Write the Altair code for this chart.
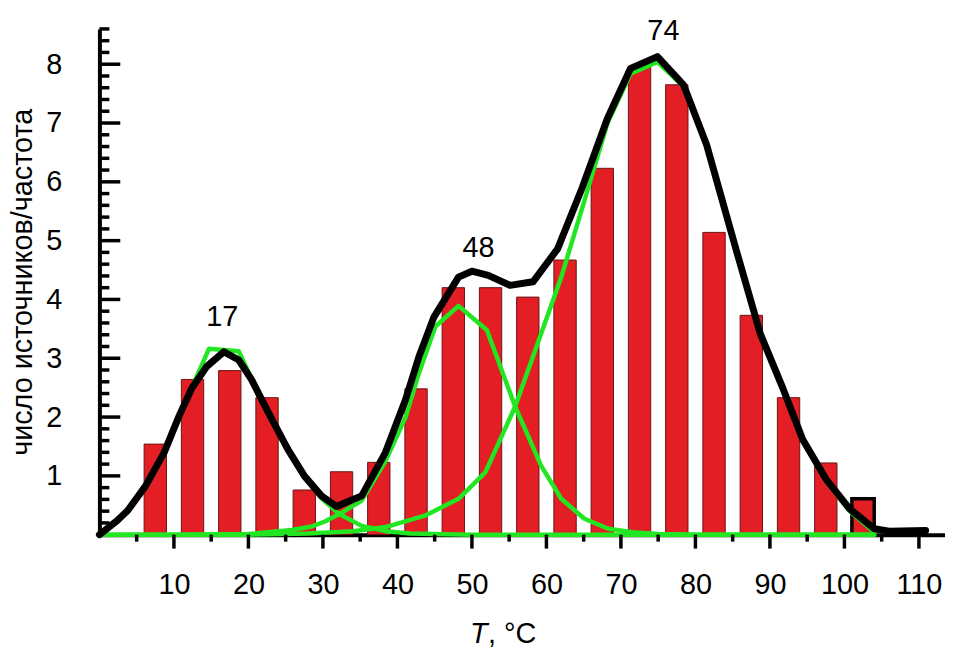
import altair as alt
import pandas as pd

# ---- data ----
bar_T = [7.5, 12.5, 17.5, 22.5, 27.5, 32.5, 37.5, 42.5, 47.5, 52.5,
         57.5, 62.5, 67.5, 72.5, 77.5, 82.5, 87.5, 92.5, 97.5, 102.5]
bar_n = [1.54, 2.64, 2.79, 2.33, 0.76, 1.07, 1.23, 2.48, 4.20, 4.20,
         4.04, 4.67, 6.23, 7.96, 7.65, 5.14, 3.73, 2.33, 1.22, 0.61]
bar_half_width = 1.5

sum_T = [0.0, 2.4, 3.8, 6.2, 8.7, 10.7, 12.4, 14.4, 16.7, 18.7, 20.4, 22.7,
         25.3, 27.5, 29.8, 31.8, 35.2, 38.4, 41.1, 42.9, 44.9, 48.2, 50.0,
         52.2, 55.1, 58.2, 61.5, 64.8, 68.2, 71.3, 74.9, 78.4, 81.5, 85.5,
         88.7, 91.8, 94.4, 97.5, 100.7, 104.0, 106.0, 110.9]
sum_y = [0.0, 0.24, 0.41, 0.83, 1.40, 2.02, 2.49, 2.86, 3.11, 2.97, 2.64, 2.07,
         1.45, 1.00, 0.66, 0.48, 0.66, 1.40, 2.30, 3.03, 3.70, 4.38, 4.48,
         4.41, 4.24, 4.30, 4.86, 5.90, 7.08, 7.93, 8.13, 7.65, 6.63, 4.83,
         3.42, 2.47, 1.62, 0.95, 0.44, 0.10, 0.06, 0.07]

g1_T = [0.0, 2.4, 3.8, 6.2, 8.7, 10.7, 12.4, 14.7, 18.7, 20.4, 22.7, 25.3,
        27.5, 29.8, 32.2, 35.2, 38.4, 41.7, 45.0, 50.0, 60.0, 70.0, 80.0, 90.0, 104.0]
g1_y = [0.02, 0.22, 0.40, 0.82, 1.40, 2.02, 2.50, 3.16, 3.12, 2.66, 2.08, 1.46,
        0.99, 0.62, 0.35, 0.15, 0.06, 0.02, 0.01, 0.0, 0.0, 0.0, 0.0, 0.0, 0.0]

g2_T = [0.0, 10.0, 20.0, 25.8, 28.5, 30.2, 32.2, 35.2, 38.4, 41.1, 42.9, 45.1,
        48.2, 52.0, 55.8, 59.3, 62.0, 65.1, 68.3, 71.6, 75.0, 80.0, 90.0, 104.0]
g2_y = [0.0, 0.0, 0.01, 0.08, 0.14, 0.22, 0.35, 0.58, 1.25, 2.00, 2.75, 3.54,
        3.89, 3.48, 2.18, 1.17, 0.61, 0.27, 0.10, 0.04, 0.01, 0.0, 0.0, 0.0]

g3_T = [0.0, 10.0, 20.0, 28.0, 34.0, 38.4, 43.8, 48.2, 51.8, 55.8, 59.3, 62.0,
        65.1, 68.2, 71.3, 74.9, 78.4, 81.5, 85.5, 88.7, 91.8, 94.4, 97.5, 100.7, 104.0]
g3_y = [0.0, 0.0, 0.0, 0.02, 0.06, 0.13, 0.33, 0.61, 1.06, 2.18, 3.42, 4.38,
        5.68, 7.00, 7.84, 8.04, 7.62, 6.60, 4.80, 3.40, 2.45, 1.60, 0.92, 0.40, 0.04]

peak_labels = ["17", "48", "74"]
peak_T = [16.5, 50.9, 75.7]
peak_y = [3.70, 4.88, 8.56]

x_major = [10, 20, 30, 40, 50, 60, 70, 80, 90, 100, 110]
x_minor = [5, 15, 25, 35, 45, 55, 65, 75, 85, 95, 105]
y_major = [1, 2, 3, 4, 5, 6, 7, 8]
y_minor = [0.2, 0.4, 0.6, 0.8, 1.2, 1.4, 1.6, 1.8, 2.2, 2.4, 2.6, 2.8,
           3.2, 3.4, 3.6, 3.8, 4.2, 4.4, 4.6, 4.8, 5.2, 5.4, 5.6, 5.8,
           6.2, 6.4, 6.6, 6.8, 7.2, 7.4, 7.6, 7.8, 8.2, 8.4, 8.6]

x_title_italic = "T"
x_title_rest = ", °C"
y_title = "число источников/частота"

# ---- layout ----
W, H = 851, 509
FONT = "Liberation Sans"
RED = "#e31e24"
GREEN = "#22e622"

xs = alt.Scale(domain=[0, 113.5], nice=False, zero=False)
ys = alt.Scale(domain=[0, 8.6], nice=False, zero=False)

bars_df = pd.DataFrame({"T": bar_T, "n": bar_n})
bars_df["T0"] = bars_df["T"] - bar_half_width
bars_df["T1"] = bars_df["T"] + bar_half_width

def curve_df(T, y, name):
    return pd.DataFrame({"T": T, "y": y, "curve": name})

x_axis = alt.Axis(values=x_major, ticks=False, labelPadding=36, labelFontSize=29,
                  labelFont=FONT, labelColor="black", domainColor="black",
                  domainWidth=4, grid=False, title=None, labelFlush=False, format="d")
y_axis = alt.Axis(values=y_major, ticks=False, labelPadding=38, labelFontSize=29,
                  labelFont=FONT, labelColor="black", domainColor="black",
                  domainWidth=4, grid=False, title=y_title, titleFont=FONT,
                  titleFontSize=29, titleFontWeight="normal", titleColor="black",
                  titlePadding=8, format="d")

bars = alt.Chart(bars_df).mark_bar(fill=RED, stroke="#6b1414", strokeWidth=1).encode(
    x=alt.X("T0:Q", scale=xs, axis=x_axis),
    x2="T1:Q",
    y=alt.Y("n:Q", scale=ys, axis=y_axis),
    y2=alt.datum(0),
)

last_bar = alt.Chart(bars_df.tail(1)).mark_bar(fill=RED, stroke="black", strokeWidth=3.5).encode(
    x=alt.X("T0:Q", scale=xs), x2="T1:Q", y=alt.Y("n:Q", scale=ys), y2=alt.datum(0)
)

greens = []
for T, y, nm in [(g1_T, g1_y, "g1"), (g2_T, g2_y, "g2"), (g3_T, g3_y, "g3")]:
    greens.append(alt.Chart(curve_df(T, y, nm)).mark_line(
        color=GREEN, strokeWidth=4.5, strokeJoin="round", strokeCap="round").encode(
        x=alt.X("T:Q", scale=xs), y=alt.Y("y:Q", scale=ys), order="T:Q"))

black = alt.Chart(curve_df(sum_T, sum_y, "sum")).mark_line(
    color="black", strokeWidth=7, strokeJoin="round", strokeCap="round").encode(
    x=alt.X("T:Q", scale=xs), y=alt.Y("y:Q", scale=ys), order="T:Q")

peaks = alt.Chart(pd.DataFrame({"T": peak_T, "y": peak_y, "t": peak_labels})).mark_text(
    font=FONT, fontSize=29, color="black", baseline="middle", align="center").encode(
    x=alt.X("T:Q", scale=xs), y=alt.Y("y:Q", scale=ys), text="t:N")

# ticks: y inward, x outward
ytick_major = alt.Chart(pd.DataFrame({"v": y_major})).mark_rule(color="black", strokeWidth=3.5).encode(
    y=alt.Y("v:Q", scale=ys), x=alt.value(0), x2=alt.value(21))
ytick_minor = alt.Chart(pd.DataFrame({"v": y_minor})).mark_rule(color="black", strokeWidth=3.5).encode(
    y=alt.Y("v:Q", scale=ys), x=alt.value(0), x2=alt.value(10))
xtick_major = alt.Chart(pd.DataFrame({"v": x_major})).mark_rule(color="black", strokeWidth=3.5).encode(
    x=alt.X("v:Q", scale=xs), y=alt.value(H), y2=alt.value(H + 14))
xtick_minor = alt.Chart(pd.DataFrame({"v": x_minor})).mark_rule(color="black", strokeWidth=3.5).encode(
    x=alt.X("v:Q", scale=xs), y=alt.value(H), y2=alt.value(H + 7))

xt1 = alt.Chart(pd.DataFrame({"t": [x_title_italic]})).mark_text(
    font=FONT, fontSize=29, fontStyle="italic", color="black", align="left",
    baseline="alphabetic").encode(x=alt.value(373), y=alt.value(618), text="t:N")
xt2 = alt.Chart(pd.DataFrame({"t": [x_title_rest]})).mark_text(
    font=FONT, fontSize=29, color="black", align="left",
    baseline="alphabetic").encode(x=alt.value(391), y=alt.value(618), text="t:N")

chart = alt.layer(
    bars, last_bar, *greens, black, peaks,
    ytick_major, ytick_minor, xtick_major, xtick_minor, xt1, xt2
).properties(
    width=W, height=H,
    autosize=alt.AutoSizeParams(type="none"),
    padding={"left": 92, "top": 19, "right": 0, "bottom": 115},
    background="white",
).configure_view(stroke=None)

chart.save("out.html", embed_options={"renderer": "svg", "actions": False})
